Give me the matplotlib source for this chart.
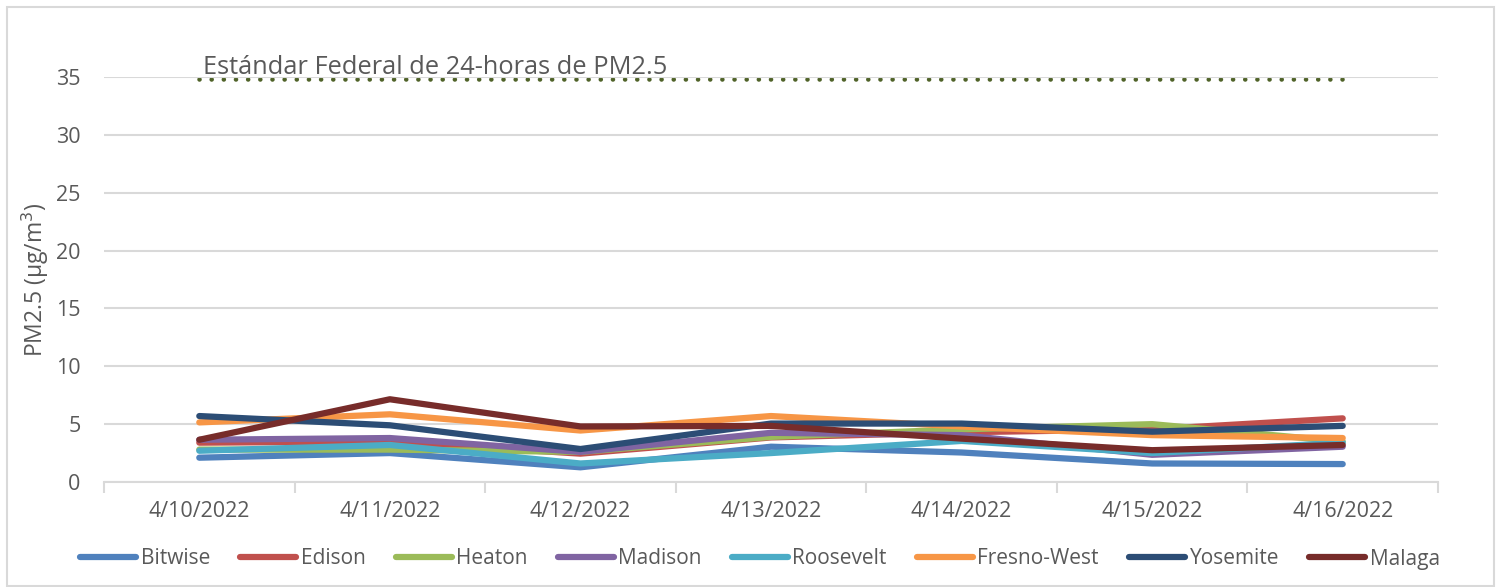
import matplotlib
matplotlib.use("Agg")
import matplotlib.pyplot as plt
import matplotlib.transforms as mtransforms
from matplotlib.patches import Rectangle

plt.rcParams['font.family'] = ['Open Sans', 'DejaVu Sans']

dates = ["4/10/2022", "4/11/2022", "4/12/2022", "4/13/2022", "4/14/2022", "4/15/2022", "4/16/2022"]
bitwise = [2.1, 2.5, 1.27, 3.05, 2.55, 1.6, 1.55]
edison = [3.4, 3.5, 2.45, 3.85, 4.3, 4.55, 5.5]
heaton = [2.8, 2.8, 2.6, 3.9, 4.55, 5.0, 3.5]
madison = [3.65, 3.8, 2.6, 4.25, 4.05, 2.35, 3.05]
roosevelt = [2.7, 3.2, 1.6, 2.5, 3.55, 2.5, 3.4]
fresno_west = [5.15, 5.85, 4.45, 5.7, 4.8, 4.05, 3.8]
yosemite = [5.7, 4.9, 2.85, 5.05, 5.05, 4.35, 4.85]
malaga = [3.65, 7.15, 4.8, 4.85, 3.75, 2.75, 3.2]
standard = [35] * 7

series_names = ["Bitwise", "Edison", "Heaton", "Madison", "Roosevelt", "Fresno-West", "Yosemite", "Malaga"]
series_values = [bitwise, edison, heaton, madison, roosevelt, fresno_west, yosemite, malaga]
colors = ["#4F81BD", "#C0504D", "#9BBB59", "#8064A2", "#4BACC6", "#F79646", "#2C4D75", "#772C2A"]

W, H = 1499, 587
fig = plt.figure(figsize=(W / 100, H / 100), dpi=100)
ax = fig.add_axes([104 / W, 1 - 482 / H, (1438 - 104) / W, (482 - 77) / H])

grid_c = "#d9d9d9"
text_c = "#595959"

x = list(range(len(dates)))
for name, vals, c in zip(series_names, series_values, colors):
    ax.plot(x, vals, color=c, lw=4.5, solid_capstyle='round', solid_joinstyle='round', label=name, zorder=3)

offset = mtransforms.ScaledTranslation(0, -2 / 100, fig.dpi_scale_trans)
ax.plot(x, standard, color="#4F6228", lw=3.3, linestyle=(0, (0.01, 2.643)), dash_capstyle='round',
        zorder=0.4, transform=ax.transData + offset)
ax.text(0.02, 35.25, "Estándar Federal de 24-horas de PM2.5", fontsize=18.3, color=text_c,
        va='baseline', ha='left')

ax.set_xlim(-0.5, 6.5)
ax.set_ylim(0, 35)
ax.set_yticks(range(0, 36, 5))
ax.yaxis.grid(True, color=grid_c, lw=1.5, zorder=0.5)
ax.set_axisbelow(True)
ax.tick_params(axis='y', length=0, pad=17, labelsize=15.5, labelcolor=text_c)
ax.set_xticks(x)
ax.set_xticklabels(dates)
ax.tick_params(axis='x', length=0, pad=14, labelsize=15.5, labelcolor=text_c)
ax.set_xticks([i - 0.5 for i in range(len(dates) + 1)], minor=True)
ax.tick_params(axis='x', which='minor', length=8, width=1.5, color=grid_c, direction='out')
for s in ['top', 'right', 'left']:
    ax.spines[s].set_visible(False)
ax.spines['bottom'].set_color(grid_c)
ax.spines['bottom'].set_linewidth(1.5)

fig.text(35 / W, 1 - 280 / H, "PM2.5 (µg/m$^{3}$)", rotation=90, fontsize=16.5, color=text_c,
         ha='center', va='center')

leg = fig.legend(loc='center', bbox_to_anchor=(760 / W, 1 - 559 / H), ncol=8, frameon=False,
                 fontsize=15, handlelength=2.7, handletextpad=0.2, columnspacing=1.45, labelcolor=text_c)
for lh in leg.get_lines():
    lh.set_linewidth(4.5)
    lh.set_solid_capstyle('round')

fig.patches.append(Rectangle((7 / W, 1 - 586 / H), (1494 - 7) / W, (586 - 7) / H, transform=fig.transFigure,
                             fill=False, edgecolor=grid_c, lw=1.5))

fig.savefig("out.png", dpi=100)
